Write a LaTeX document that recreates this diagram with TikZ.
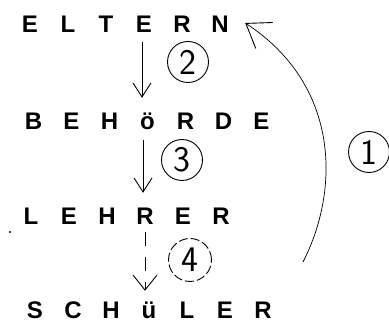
\documentclass[tikz,border=0pt]{standalone}
\usepackage{fontspec}
\setmainfont{Liberation Sans}
\usetikzlibrary{arrows.meta}
\newcommand\ltrbox[1]{\makebox[38pt]{#1}}
\begin{document}
\begin{tikzpicture}[x=1pt,y=-1pt,
  word/.style={font=\fontsize{24}{28}\selectfont\bfseries, inner sep=0pt, text height=17pt, text depth=0pt},
  num/.style={circle, draw, line width=0.9pt, inner sep=0pt, minimum size=41pt, font=\fontsize{36}{36}\selectfont\sffamily},
  arr/.style={line width=0.9pt, -{Straight Barb[length=14pt,width=18pt]}},
]
\useasboundingbox (0,0) rectangle (389,323);
\node[word] (eltern) at (125,24) {\ltrbox{E}\ltrbox{L}\ltrbox{T}\ltrbox{E}\ltrbox{R}\ltrbox{N}};
\node[word] (behoerde) at (147.5,121) {\ltrbox{B}\ltrbox{E}\ltrbox{H}\ltrbox{ö}\ltrbox{R}\ltrbox{D}\ltrbox{E}};
\node[word] (lehrer) at (126,216) {\ltrbox{L}\ltrbox{E}\ltrbox{H}\ltrbox{R}\ltrbox{E}\ltrbox{R}};
\node[word] (schueler) at (149,310) {\ltrbox{S}\ltrbox{C}\ltrbox{H}\ltrbox{ü}\ltrbox{L}\ltrbox{E}\ltrbox{R}};
\fill (10,232) circle (1.2pt);
\node[num] (n2) at (188,62) {2};
\node[num] (n3) at (182,160) {3};
\node[num, dash pattern=on 9pt off 3pt, minimum size=43pt] (n4) at (190,260) {4};
\node[num] (n1) at (369,152) {1};
\draw[arr] ([xshift=17pt,yshift=-9.5pt]eltern.south) -- ([xshift=-5.5pt,yshift=14.5pt]behoerde.north);
\draw[arr] ([xshift=-4.5pt,yshift=-10.5pt]behoerde.south) -- ([xshift=17pt,yshift=14.5pt]lehrer.north);
\draw[line width=0.9pt, dash pattern=on 14pt off 11pt, -{Straight Barb[length=15pt,width=24pt]}] ([xshift=19pt,yshift=-7.5pt]lehrer.south) -- ([xshift=-4pt,yshift=10.5pt]schueler.north);
\coordinate (arcend) at (303,262);
\draw[line width=0.7pt, -{Straight Barb[length=22pt,width=31pt,line width=0.9pt]}] (arcend) .. controls (340,190) and (340,85) .. ([xshift=6pt,yshift=1pt]eltern.east);
\end{tikzpicture}
\end{document}
